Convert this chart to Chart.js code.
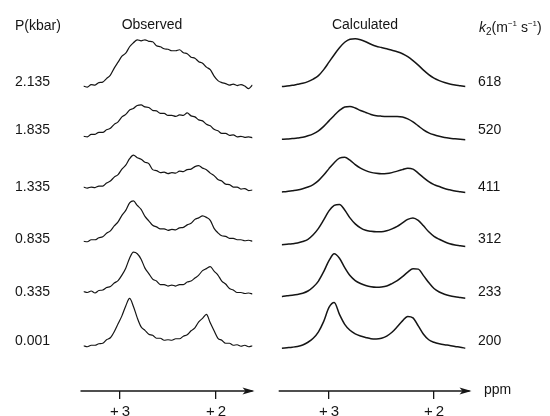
<!DOCTYPE html>
<html lang="en">
<head>
  <meta charset="UTF-8" />
  <title>Observed vs calculated spectra</title>
  <style>
    * { box-sizing: border-box; margin: 0; padding: 0; }
    html, body {
      width: 550px;
      height: 416px;
      overflow: hidden;
      background: #fff;
      font-family: 'Liberation Sans', Arial, sans-serif;
      color: #151515;
    }
    .panel { position: absolute; top: 0; width: 275px; height: 425px; }
    #obsPanel { left: 0; }
    #calcPanel { left: 275px; }
    .lbl { position: absolute; font-size: 14px; line-height: 16px; white-space: nowrap; }
    .title { transform: translateX(-50%); }
  </style>
</head>
<body>
  <div class="panel" id="obsPanel"><canvas id="obsChart"></canvas></div>
  <div class="panel" id="calcPanel"><canvas id="calcChart"></canvas></div>

  <div class="lbl" style="left:15px;top:17px">P(kbar)</div>
  <div class="lbl title" style="left:152px;top:16px">Observed</div>
  <div class="lbl title" style="left:365px;top:16px">Calculated</div>
  <div class="lbl" style="left:479px;top:16px"><i>k</i><sub style="font-size:10px">2</sub>(m<sup style="font-size:8px">−1</sup> s<sup style="font-size:8px">−1</sup>)</div>
  <div class="lbl" style="left:484px;top:381px">ppm</div>
  <div id="rowLabels"></div>

  <script src="https://cdn.jsdelivr.net/npm/chart.js"></script>
  <script>
// row labels, top to bottom
const pressures = ['2.135', '1.835', '1.335', '0.835', '0.335', '0.001'];
const rateConsts = ['618', '520', '411', '312', '233', '200'];

// vertical offset of each spectrum (intensity units)
const offsets = [61.2, 50.8, 40.2, 29.8, 19.2, 8.8];

// observed spectra: ppm grid 3.38 -> 1.62, step 0.04
const obsPpm = [3.38, 3.34, 3.30, 3.26, 3.22, 3.18, 3.14, 3.10, 3.06, 3.02, 2.98, 2.94, 2.90, 2.86, 2.82,
  2.78, 2.74, 2.70, 2.66, 2.62, 2.58, 2.54, 2.50, 2.46, 2.42, 2.38, 2.34, 2.30, 2.26, 2.22,
  2.18, 2.14, 2.10, 2.06, 2.02, 1.98, 1.94, 1.90, 1.86, 1.82, 1.78, 1.74, 1.70, 1.66, 1.62];
const obs2135 = [0.1, -0.1, 0.4, 0.3, 0.8, 0.9, 1.6, 2.3, 3.7, 4.9, 6.1, 6.7, 8.0, 8.8, 9.4, 9.2, 9.4, 9.1, 9.0, 8.2, 8.0, 7.6, 7.5, 7.2, 7.2, 7.4, 6.8, 6.6, 5.9, 5.7, 5.0, 4.7, 3.9, 3.4, 2.1, 1.2, 0.8, 0.6, 0.3, 0.5, 0.2, 0.4, 0.1, -0.4, 0.3];
const obs1835 = [0.4, 0.3, 0.8, 0.8, 1.2, 1.2, 1.7, 2.0, 2.8, 3.3, 4.3, 4.8, 5.7, 6.0, 6.6, 6.7, 6.3, 6.2, 5.6, 5.5, 5.0, 5.0, 4.6, 4.6, 4.4, 4.7, 4.6, 5.1, 4.5, 4.3, 3.7, 3.5, 2.8, 2.5, 1.8, 1.5, 1.0, 1.0, 0.6, 0.7, 0.3, 0.4, 0.2, 0.3, 0.1];
const obs1335 = [0.8, 0.6, 0.8, 0.7, 1.0, 1.0, 1.6, 2.0, 2.8, 3.3, 4.4, 5.2, 6.5, 7.2, 6.7, 6.4, 5.8, 5.5, 4.3, 4.1, 3.7, 3.8, 3.5, 3.7, 3.6, 4.0, 3.9, 4.3, 4.4, 4.9, 5.1, 4.6, 4.3, 3.6, 3.1, 2.3, 2.0, 1.4, 1.3, 0.8, 0.8, 0.4, 0.5, 0.1, 0.2];
const obs0835 = [0.3, 0.2, 0.6, 0.6, 1.0, 1.2, 1.9, 2.4, 3.4, 4.2, 5.5, 6.5, 8.0, 8.4, 7.5, 6.7, 5.3, 4.4, 3.5, 3.2, 2.8, 2.8, 2.5, 2.7, 2.6, 3.0, 3.1, 3.6, 3.9, 4.7, 5.0, 5.4, 5.1, 4.5, 2.9, 2.0, 1.4, 1.3, 0.9, 0.9, 0.6, 0.6, 0.4, 0.5, 0.3];
const obs0335 = [0.8, 0.6, 0.9, 0.5, 1.0, 1.1, 1.6, 1.8, 2.5, 3.0, 4.1, 5.5, 7.5, 8.7, 8.4, 7.3, 5.5, 4.4, 3.3, 2.9, 2.2, 2.2, 1.9, 2.1, 1.9, 2.2, 2.2, 2.7, 2.9, 3.5, 4.1, 5.0, 5.4, 5.8, 4.9, 4.1, 2.9, 2.3, 1.4, 1.1, 0.6, 0.6, 0.4, 0.5, 0.3];
const obs0001 = [0.3, 0.1, 0.4, 0.4, 0.7, 0.8, 1.5, 1.9, 3.1, 4.7, 6.3, 8.3, 9.8, 8.2, 5.9, 4.1, 3.4, 2.6, 2.4, 1.8, 1.8, 1.4, 1.5, 1.4, 1.7, 1.7, 2.2, 2.5, 3.3, 3.9, 5.1, 5.8, 6.6, 4.9, 3.3, 1.8, 1.4, 0.8, 0.8, 0.4, 0.5, 0.2, 0.4, 0.1, 0.3];

// calculated spectra: ppm grid 3.45 -> 1.70, step 0.05
const calcPpm = [3.45, 3.40, 3.35, 3.30, 3.25, 3.20, 3.15, 3.10, 3.05, 3.00, 2.95, 2.90, 2.85, 2.80, 2.75, 2.70, 2.65, 2.60,
  2.55, 2.50, 2.45, 2.40, 2.35, 2.30, 2.25, 2.20, 2.15, 2.10, 2.05, 2.00, 1.95, 1.90, 1.85, 1.80, 1.75, 1.70];
const calc618 = [0, 0.1, 0.25, 0.45, 0.65, 1.0, 1.5, 2.2, 3.4, 4.9, 6.4, 7.8, 8.9, 9.5, 9.6, 9.4, 9.0, 8.5, 8.1, 7.85, 7.6, 7.3, 7.0, 6.6, 6.0, 5.2, 4.3, 3.3, 2.4, 1.7, 1.2, 0.8, 0.5, 0.3, 0.15, 0];
const calc520 = [-0.2, -0.15, -0.05, 0.05, 0.2, 0.5, 0.9, 1.5, 2.4, 3.5, 4.6, 5.6, 6.3, 6.4, 6.1, 5.6, 5.2, 4.8, 4.55, 4.45, 4.4, 4.4, 4.4, 4.3, 3.9, 3.3, 2.5, 1.7, 1.1, 0.7, 0.4, 0.15, 0, -0.1, -0.2, -0.3];
const calc411 = [-0.2, -0.1, 0.05, 0.2, 0.45, 0.8, 1.3, 2.1, 3.2, 4.5, 5.7, 6.6, 6.8, 6.2, 5.3, 4.6, 4.1, 3.75, 3.55, 3.45, 3.5, 3.7, 4.0, 4.3, 4.6, 4.4, 3.6, 2.7, 1.9, 1.3, 0.9, 0.5, 0.25, 0, -0.15, -0.3];
const calc312 = [-0.4, -0.3, -0.2, -0.05, 0.25, 0.7, 1.6, 2.9, 4.6, 6.4, 7.5, 7.7, 6.6, 5.0, 3.8, 3.0, 2.5, 2.3, 2.2, 2.2, 2.4, 2.8, 3.3, 4.0, 4.7, 5.0, 4.5, 3.4, 2.2, 1.3, 0.7, 0.2, -0.2, -0.45, -0.6, -0.75];
const calc233 = [-0.2, -0.05, 0.05, 0.2, 0.45, 0.9, 1.7, 2.9, 4.8, 7.0, 8.4, 7.5, 5.6, 4.0, 3.0, 2.4, 2.0, 1.75, 1.65, 1.7, 1.9, 2.4, 3.0, 3.8, 4.7, 5.4, 5.3, 4.0, 2.6, 1.4, 0.7, 0.25, -0.05, -0.25, -0.4, -0.55];
const calc200 = [-0.2, -0.1, 0, 0.15, 0.45, 1.0, 1.8, 3.1, 5.2, 8.0, 9.0, 6.6, 4.6, 3.4, 2.7, 2.25, 1.95, 1.7, 1.65, 1.8, 2.25, 3.0, 4.1, 5.3, 6.2, 5.9, 4.3, 2.6, 1.5, 1.0, 0.7, 0.5, 0.35, 0.15, 0, -0.2];

const obsSeries = [obs2135, obs1835, obs1335, obs0835, obs0335, obs0001];
const calcSeries = [calc618, calc520, calc411, calc312, calc233, calc200];

// left and right row labels
const rowTops = [73, 121, 178, 230, 283, 332];
const rows = document.getElementById('rowLabels');
pressures.forEach((p, i) => {
  rows.insertAdjacentHTML('beforeend',
    `<div class="lbl" style="left:15px;top:${rowTops[i]}px">${p}</div>` +
    `<div class="lbl" style="left:478px;top:${rowTops[i]}px">${rateConsts[i]}</div>`);
});

// arrow head at the right end of the ppm axis
const arrowPlugin = {
  id: 'arrowAxis',
  afterDraw(chart) {
    const { ctx, chartArea } = chart;
    const y = chartArea.bottom;
    const x = chartArea.right + chart.options.plugins.arrowAxis.extend;
    ctx.save();
    ctx.strokeStyle = '#151515';
    ctx.fillStyle = '#151515';
    ctx.lineWidth = 1.5;
    ctx.beginPath();
    ctx.moveTo(chartArea.left - 3, y);
    ctx.lineTo(x, y);
    ctx.stroke();
    ctx.beginPath();
    ctx.moveTo(x + 2, y);
    ctx.lineTo(x - 10, y - 3.5);
    ctx.lineTo(x - 7, y);
    ctx.lineTo(x - 10, y + 3.5);
    ctx.closePath();
    ctx.fill();
    ctx.restore();
  }
};

const makeChart = (id, ppm, series, lo, hi, lineWidth, padL, padR, extend) => {
  const datasets = series.map((vals, i) => ({
    data: ppm.map((x, j) => ({ x, y: offsets[i] + vals[j] })),
    borderColor: '#151515',
    borderWidth: lineWidth,
    pointRadius: 0,
    tension: 0.3,
    cubicInterpolationMode: 'monotone',
    fill: false
  }));
  return new Chart(document.getElementById(id), {
    type: 'line',
    data: { datasets },
    options: {
      responsive: true,
      maintainAspectRatio: false,
      animation: false,
      layout: { padding: { left: padL, right: padR, top: 0, bottom: 0 } },
      plugins: { legend: { display: false }, tooltip: { enabled: false }, arrowAxis: { extend } },
      scales: {
        x: {
          type: 'linear',
          reverse: true,
          min: lo,
          max: hi,
          afterBuildTicks: axis => { axis.ticks = [{ value: 3 }, { value: 2 }]; },
          grid: { display: true, drawOnChartArea: false, drawTicks: true, tickLength: 8, color: '#151515', lineWidth: 1.3 },
          border: { display: false },
          ticks: {
            color: '#151515',
            padding: 4,
            maxRotation: 0,
            font: { family: "'Liberation Sans', Arial, sans-serif", size: 15 },
            callback: v => '+\u2009' + v
          }
        },
        y: { display: false, min: 0, max: 78.6 }
      }
    },
    plugins: [arrowPlugin]
  });
};

makeChart('obsChart', obsPpm, obsSeries, 1.62, 3.38, 1.2, 83.5, 22.5, 0);
makeChart('calcChart', calcPpm, calcSeries, 1.70, 3.45, 1.5, 6.7, 84.5, 4);
  </script>
</body>
</html>
